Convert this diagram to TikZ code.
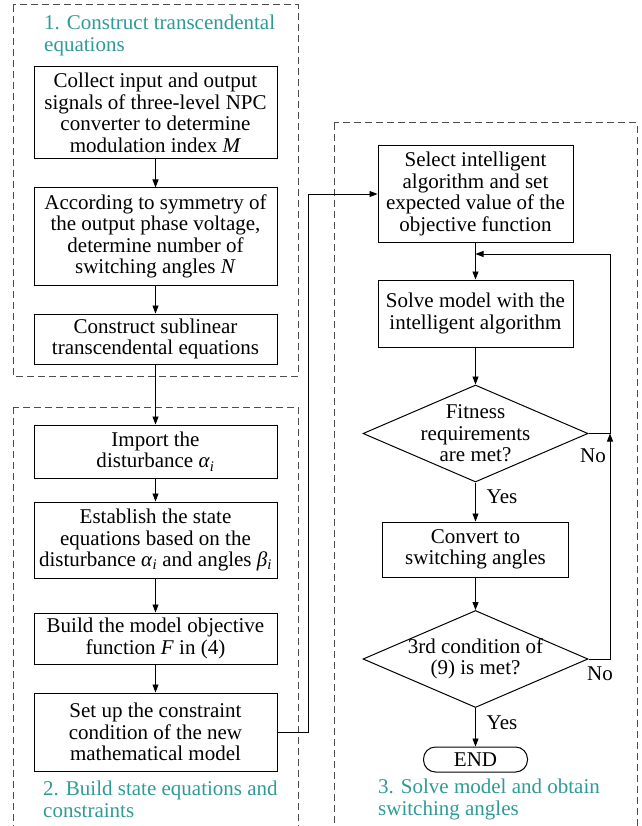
\documentclass[tikz,border=0pt]{standalone}
\usepackage{fontspec}
\setmainfont{Liberation Serif}
\usetikzlibrary{arrows.meta,shapes.geometric}
\definecolor{teal1}{RGB}{45,155,150}
\tikzset{bx/.append style={draw,rectangle,line width=1pt,inner sep=2pt,align=center}}
\tikzset{dm/.append style={draw,diamond,aspect=2.32,line width=1pt,inner xsep=0pt,inner ysep=-8pt,align=center,minimum width=225pt,minimum height=97pt}}
\tikzset{tm/.append style={draw,rectangle,rounded corners=12pt,line width=1pt,inner sep=2pt,minimum width=104pt,minimum height=25pt}}
\tikzset{grp/.append style={draw=black!70,line width=1pt,dash pattern=on 7pt off 4pt}}
\tikzset{ttl/.append style={text=teal1,align=left,inner sep=0pt,anchor=north west}}
\tikzset{arr/.append style={line width=0.9pt,-{Triangle[length=8pt,width=6pt]}}}
\newcommand{\ital}[1]{\textit{#1}}

\begin{document}
\begin{tikzpicture}[x=1pt,y=-1pt,font=\fontsize{21}{21.5}\selectfont]
                \useasboundingbox (0,0) rectangle (641,826);
                % dashed groups
                \draw[grp] (13,5) rectangle (298,376);
                \draw[grp] (13,407) rectangle (298,840);
                \draw[grp] (334,123) rectangle (637,840);
                \node[ttl] (t1) at (44,15) {1. Construct transcendental\\equations};
                \node[ttl] (t2) at (43,781) {2. Build state equations and\\constraints};
                \node[ttl] (t3) at (378,779) {3. Solve model and obtain\\switching angles};
                % column 1
                \node[bx,minimum width=243pt,minimum height=92pt] (a1) at (155.5,113) {Collect input and output\\signals of three-level NPC\\converter to determine\\modulation index \ital{M}};
                \node[bx,minimum width=243pt,minimum height=97pt] (a2) at (155.5,236.5) {According to symmetry of\\the output phase voltage,\\determine number of\\switching angles \ital{N}};
                \node[bx,minimum width=243pt,minimum height=50pt] (a3) at (155.5,339) {Construct sublinear\\transcendental equations};
                \node[bx,minimum width=243pt,minimum height=53pt] (b1) at (155.5,451.5) {Import the\\disturbance \ital{α}\textsubscript{\ital{i}}};
                \node[bx,minimum width=243pt,minimum height=76pt] (b2) at (155.5,540) {Establish the state\\equations based on the\\disturbance \ital{α}\textsubscript{\ital{i}} and angles \ital{β}\textsubscript{\ital{i}}};
                \node[bx,minimum width=243pt,minimum height=51pt] (b3) at (155.5,638.5) {Build the model objective\\function \ital{F} in (4)};
                \node[bx,minimum width=243pt,minimum height=78pt] (b4) at (155.5,732) {Set up the constraint\\condition of the new\\mathematical model};
                % column 2
                \node[bx,minimum width=195pt,minimum height=96pt] (c1) at (475.5,194) {Select intelligent\\algorithm and set\\expected value of the\\objective function};
                \node[bx,minimum width=195pt,minimum height=67pt] (c2) at (475.5,313.5) {Solve model with the\\intelligent algorithm};
                \node[dm] (d1) at (475.5,433.5) {Fitness\\requirements\\are met?};
                \node[bx,minimum width=186pt,minimum height=55pt] (c3) at (475.5,549.5) {Convert to\\switching angles};
                \node[dm] (d2) at (475.5,659) {3rd condition of\\(9) is met?};
                \node[tm] (e) at (475.5,759.5) {END};
                \coordinate (j1) at (475.5,254);
                \coordinate (r1) at (610,433.5);
                \node (y1) at (502,497) {Yes};
                \node (y2) at (502,723) {Yes};
                \node (n1) at (593,456) {No};
                \node (n2) at (600,674) {No};
                % connectors
                \draw[arr] (a1) -- (a2);
                \draw[arr] (a2) -- (a3);
                \draw[arr] (a3) -- (b1);
                \draw[arr] (b1) -- (b2);
                \draw[arr] (b2) -- (b3);
                \draw[arr] (b3) -- (b4);
                \draw[arr] (b4.east) -- ++(31,0) |- (c1.west);
                \draw[arr] (c1) -- (c2);
                \draw[arr] (c2) -- (d1);
                \draw[arr] (d1) -- (c3);
                \draw[arr] (c3) -- (d2);
                \draw[arr] (d2) -- (e);
                \draw[arr] (d1.east) -- (r1) |- (j1);
                \draw[arr] (d2.east) -| (r1);
            \end{tikzpicture}
\end{document}
